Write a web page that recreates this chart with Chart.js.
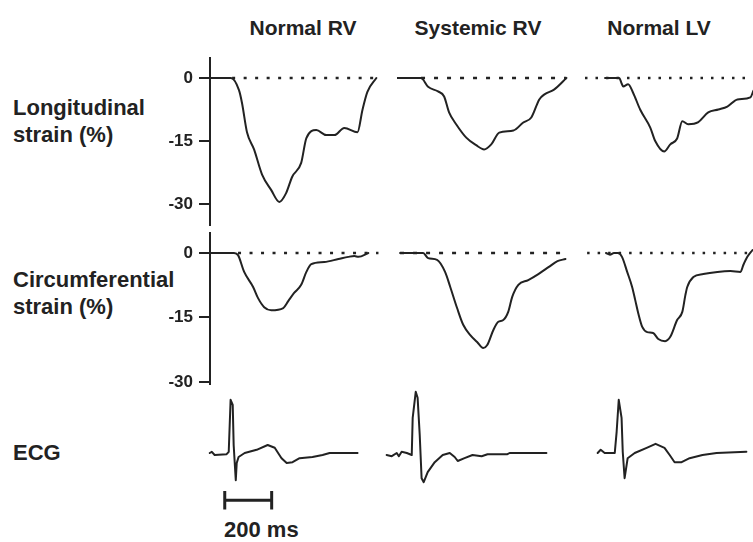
<!DOCTYPE html>
<html lang="en">
<head>
<meta charset="UTF-8">
<title>Myocardial strain and ECG</title>
<script src="https://cdn.jsdelivr.net/npm/chart.js"></script>
<style>
  body { margin: 0; background: #fff; width: 753px; height: 542px; overflow: hidden; position: relative;
         font-family: "Liberation Sans", Arial, Helvetica, sans-serif; color: #222; }
  canvas { position: absolute; }
  .label { position: absolute; font-weight: bold; font-size: 21px; line-height: 27px; white-space: nowrap; }
  .col-title { width: 180px; text-align: center; }
</style>
</head>
<body>
<div class="label col-title" style="left:213px; top:14px;">Normal RV</div>
<div class="label col-title" style="left:388px; top:14px;">Systemic RV</div>
<div class="label col-title" style="left:569px; top:14px;">Normal LV</div>

<div class="label" style="left:13px; top:94px; font-size:22px;">Longitudinal<br>strain (%)</div>
<div class="label" style="left:13px; top:266px; font-size:22px;">Circumferential<br>strain (%)</div>
<div class="label" style="left:13px; top:439px; font-size:22px;">ECG</div>
<div class="label" style="left:224px; top:516px; font-size:22px;">200 ms</div>

<script>
// ---- data: time (ms) vs strain (%) / ECG (mV) ----
const columns = ['Normal RV', 'Systemic RV', 'Normal LV'];
const strainTicks = [0, -15, -30];

const lonNormalRV = [[0,0],[89,0],[123,-2.9],[136,-6],[157,-12.9],[187,-17],[221,-23],[260,-26.7],[294,-29.5],
  [323,-27.4],[349,-23.5],[387,-20.2],[409,-14.3],[451,-12.4],[494,-13.6],[528,-13.6],[570,-11.9],[626,-12.9],
  [647,-7.6],[668,-3.3],[706,0]];
const lonSystemicRV = [[0,0],[102,0],[132,-2.1],[174,-3.2],[200,-4.4],[221,-8.2],[251,-11],[294,-14.2],[336,-16],
  [370,-17],[400,-15.8],[434,-13],[494,-12.5],[536,-10.6],[570,-9.4],[604,-5.1],[626,-3.9],[668,-2.7],[719,0]];
const lonNormalLV = [[85,0],[145,0],[157,-1.5],[162,-2],[183,-1.5],[204,-3.5],[234,-7.5],[277,-11.8],[298,-15],
  [336,-17.5],[362,-15.8],[391,-14.4],[413,-10.3],[438,-11],[481,-10.5],[523,-8.2],[566,-7.5],[604,-6.8],
  [647,-5.1],[702,-4.6],[715,-3]];

const circNormalRV = [[0,0],[102,0],[119,-0.5],[145,-4.4],[183,-7.9],[204,-10.5],[230,-12.6],[260,-13.3],[311,-12.8],
  [332,-11.2],[357,-9.3],[387,-7.4],[409,-4.4],[430,-2.6],[485,-2.1],[545,-1.4],[587,-0.9],[613,-0.7],[630,-0.9],[672,0]];
const circSystemicRV = [[13,0],[111,0],[132,-1.2],[170,-1.6],[204,-4.4],[226,-7.9],[255,-12.8],[281,-16.7],[311,-19.1],
  [340,-20.7],[366,-22.1],[383,-21.4],[409,-17.9],[430,-16],[451,-15.6],[472,-13.7],[489,-10.2],[515,-7.4],
  [557,-6.3],[600,-4.9],[643,-3.3],[681,-1.9],[715,-1.4]];
const circNormalLV = [[89,0],[106,-0.4],[123,0],[140,0],[157,-0.9],[179,-4.4],[200,-7.9],[213,-10.9],[226,-14],
  [243,-17.2],[264,-18.4],[289,-18.6],[311,-20],[340,-20.5],[362,-19.5],[391,-15.6],[413,-13.7],[426,-9.8],
  [434,-7.9],[460,-5.6],[502,-4.9],[562,-4.4],[617,-4.2],[660,-4.4],[672,-2.8],[689,-0.9],[711,0.7]];

// zero reference lines, [from, to] in ms
const lonZero = [[94,711],[102,719],[0,715]];
const circZero = [[119,715],[13,723],[9,711]];

const ecgNormalRV = [[0,0],[9,0.03],[21,-0.05],[72,-0.03],[81,0.03],[89,1.33],[98,1.2],[102,0.2],[111,-0.68],
  [115,-0.25],[123,-0.1],[149,0],[200,0.08],[247,0.2],[277,0.13],[306,-0.13],[328,-0.25],[353,-0.23],[383,-0.13],
  [438,-0.1],[481,-0.05],[511,0],[630,0]];
const ecgSystemicRV = [[-43,-0.05],[-21,-0.08],[0,0],[9,-0.08],[21,0.03],[43,0],[64,-0.05],[68,0.88],[81,1.53],
  [89,1.38],[98,0.45],[106,-0.63],[115,-0.73],[132,-0.48],[162,-0.23],[196,-0.05],[226,0],[247,-0.1],[260,-0.2],
  [289,-0.13],[323,-0.05],[362,-0.08],[387,-0.03],[472,-0.03],[481,0],[638,0]];
const ecgNormalLV = [[55,0],[68,0.08],[85,0],[128,0],[136,0.53],[145,1.33],[157,0.88],[162,0.03],[170,-0.63],
  [183,-0.13],[213,0],[264,0.13],[302,0.23],[340,0.13],[362,-0.05],[383,-0.23],[413,-0.23],[447,-0.13],
  [502,-0.05],[562,0],[689,0.03]];

const scaleBarMs = [64, 264];   // 200 ms

// ---- layout ----
const INK = '#222';
const FONT = '"Liberation Sans", Arial, Helvetica, sans-serif';
const PX_PER_MS = 0.235;
const AXIS_W = 60;
const PAD = 12;                 // room above/below the plot area for tick labels
const colLeft = [210, 397, 585];
const zeroDash = [[3, 8.5], [4, 9], [2.5, 8]];
const rows = {
  lon:  { top: 58,  height: 167, yMin: -35,    yMax: 4.76, xMin: 0,   xMax: 730 },
  circ: { top: 233, height: 151, yMin: -30.47, yMax: 4.65, xMin: 0,   xMax: 730 },
  ecg:  { top: 381, height: 132, yMin: -1.5,   yMax: 1.8,  xMin: -50, xMax: 730 }
};
const barLevel = -1.18, barCap = 0.23;

const pts = arr => arr.map(([x, y]) => ({ x, y }));

function curve(data, smooth) {
  return { data: pts(data), borderColor: INK, borderWidth: 2, pointRadius: 0,
           cubicInterpolationMode: smooth ? 'monotone' : 'default', tension: 0,
           borderJoinStyle: 'round', borderCapStyle: 'round' };
}
function zeroLine(range, dash) {
  return { data: [{ x: range[0], y: 0 }, { x: range[1], y: 0 }], borderColor: INK, borderWidth: 2.5,
           borderDash: dash, borderCapStyle: 'butt', pointRadius: 0 };
}

function panel(row, col, datasets, showAxis) {
  const r = rows[row];
  const areaLeft = colLeft[col] + r.xMin * PX_PER_MS;
  const areaW = (r.xMax - r.xMin) * PX_PER_MS;
  const axisW = showAxis ? AXIS_W : 0;
  const canvas = document.createElement('canvas');
  canvas.width = Math.round(areaW + axisW);
  canvas.height = r.height + 2 * PAD;
  canvas.style.left = Math.round(areaLeft - axisW) + 'px';
  canvas.style.top = (r.top - PAD) + 'px';
  document.body.appendChild(canvas);

  new Chart(canvas, {
    type: 'line',
    data: { datasets },
    options: {
      responsive: false,
      animation: false,
      events: [],
      layout: { padding: { top: PAD, bottom: PAD, left: 0, right: 0 } },
      plugins: { legend: { display: false }, tooltip: { enabled: false } },
      scales: {
        x: { type: 'linear', min: r.xMin, max: r.xMax, display: false },
        y: {
          type: 'linear', min: r.yMin, max: r.yMax, display: showAxis,
          afterBuildTicks: s => { s.ticks = strainTicks.map(v => ({ value: v })); },
          afterFit: s => {
            if (!showAxis) return;
            s.width = AXIS_W; s.paddingTop = 0; s.paddingBottom = 0;
          },
          border: { display: true, color: INK, width: 2 },
          grid: { drawOnChartArea: false, drawTicks: true, tickLength: 11, color: INK, lineWidth: 2 },
          ticks: { color: INK, padding: 6, font: { family: FONT, size: 17, weight: 'bold' },
                   callback: v => String(v) }
        }
      }
    }
  });
}

const lonSeries = [lonNormalRV, lonSystemicRV, lonNormalLV];
const circSeries = [circNormalRV, circSystemicRV, circNormalLV];
const ecgSeries = [ecgNormalRV, ecgSystemicRV, ecgNormalLV];

columns.forEach((name, c) => {
  panel('lon', c, [curve(lonSeries[c], true), zeroLine(lonZero[c], zeroDash[c])], c === 0);
  panel('circ', c, [curve(circSeries[c], true), zeroLine(circZero[c], zeroDash[c])], c === 0);
  const ecg = [curve(ecgSeries[c], false)];
  if (c === 0) {
    const [a, b] = scaleBarMs;
    ecg.push({
      data: [{ x: a, y: barLevel + barCap }, { x: a, y: barLevel - barCap }, { x: a, y: barLevel },
             { x: b, y: barLevel }, { x: b, y: barLevel + barCap }, { x: b, y: barLevel - barCap }],
      borderColor: INK, borderWidth: 3, pointRadius: 0, borderCapStyle: 'butt'
    });
  }
  panel('ecg', c, ecg, false);
});
</script>
</body>
</html>
